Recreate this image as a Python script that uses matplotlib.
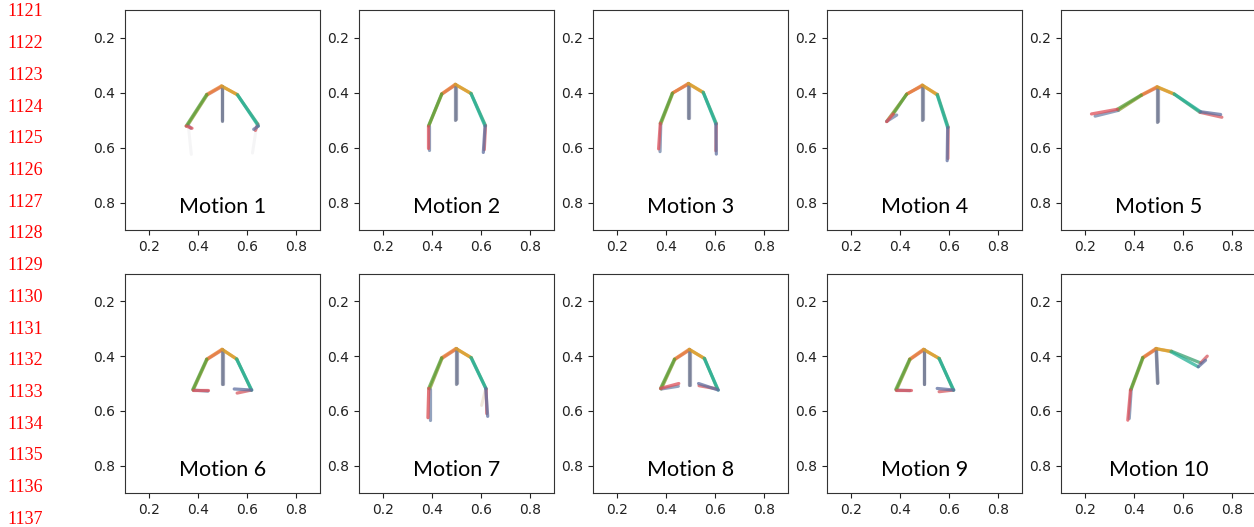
import matplotlib.pyplot as plt

# joint order: neck, chest, l_shoulder, l_elbow, l_wrist, r_shoulder, r_elbow, r_wrist
SEGMENTS = [(0, 1), (0, 2), (2, 3), (3, 4), (0, 5), (5, 6), (6, 7)]

motion_1 = [
    ([0.496, 0.496, 0.435, 0.351, 0.375, 0.562, 0.647, 0.628],
     [0.376, 0.503, 0.407, 0.522, 0.530, 0.409, 0.522, 0.534]),
    ([0.498, 0.498, 0.437, 0.358, 0.370, 0.560, 0.645, 0.635],
     [0.378, 0.500, 0.409, 0.518, 0.530, 0.407, 0.515, 0.538]),
]
motion_1_faint = [
    ([0.496, 0.496, 0.435, 0.360, 0.372, 0.562, 0.640, 0.623],
     [0.376, 0.503, 0.407, 0.522, 0.625, 0.409, 0.522, 0.620]),
]
motion_2 = [
    ([0.495, 0.495, 0.439, 0.385, 0.385, 0.559, 0.617, 0.610],
     [0.370, 0.500, 0.405, 0.522, 0.600, 0.403, 0.522, 0.618]),
    ([0.497, 0.497, 0.440, 0.387, 0.387, 0.560, 0.619, 0.614],
     [0.372, 0.498, 0.406, 0.520, 0.609, 0.404, 0.520, 0.608]),
]
motion_3 = [
    ([0.491, 0.491, 0.425, 0.376, 0.369, 0.552, 0.604, 0.606],
     [0.367, 0.494, 0.403, 0.512, 0.605, 0.399, 0.515, 0.624]),
    ([0.493, 0.493, 0.428, 0.378, 0.375, 0.553, 0.606, 0.604],
     [0.369, 0.492, 0.401, 0.515, 0.615, 0.401, 0.513, 0.612]),
]
motion_4 = [
    ([0.491, 0.491, 0.426, 0.372, 0.345, 0.552, 0.595, 0.593],
     [0.373, 0.500, 0.407, 0.478, 0.506, 0.409, 0.528, 0.648]),
    ([0.493, 0.493, 0.428, 0.345, 0.386, 0.553, 0.597, 0.596],
     [0.375, 0.498, 0.405, 0.505, 0.482, 0.407, 0.526, 0.640]),
]
motion_5 = [
    ([0.494, 0.494, 0.429, 0.331, 0.225, 0.564, 0.673, 0.755],
     [0.379, 0.506, 0.409, 0.461, 0.478, 0.405, 0.470, 0.480]),
    ([0.496, 0.496, 0.431, 0.335, 0.240, 0.566, 0.670, 0.760],
     [0.381, 0.504, 0.410, 0.465, 0.486, 0.407, 0.472, 0.490]),
]
motion_6 = [
    ([0.498, 0.498, 0.435, 0.378, 0.440, 0.557, 0.620, 0.548],
     [0.375, 0.502, 0.411, 0.522, 0.522, 0.410, 0.524, 0.520]),
    ([0.500, 0.500, 0.437, 0.380, 0.440, 0.559, 0.618, 0.560],
     [0.377, 0.500, 0.412, 0.524, 0.528, 0.411, 0.524, 0.535]),
]
motion_7 = [
    ([0.498, 0.498, 0.439, 0.386, 0.383, 0.559, 0.620, 0.628],
     [0.372, 0.500, 0.406, 0.518, 0.625, 0.405, 0.518, 0.620]),
    ([0.500, 0.500, 0.441, 0.390, 0.390, 0.561, 0.622, 0.624],
     [0.374, 0.498, 0.408, 0.520, 0.635, 0.406, 0.520, 0.610]),
]
motion_7_faint = [
    ([0.498, 0.498, 0.439, 0.386, 0.383, 0.559, 0.620, 0.603],
     [0.372, 0.500, 0.406, 0.518, 0.625, 0.405, 0.518, 0.580]),
]
motion_8 = [
    ([0.495, 0.495, 0.434, 0.377, 0.452, 0.556, 0.614, 0.533],
     [0.375, 0.506, 0.411, 0.518, 0.500, 0.408, 0.524, 0.500]),
    ([0.497, 0.497, 0.436, 0.380, 0.450, 0.558, 0.610, 0.535],
     [0.377, 0.504, 0.412, 0.520, 0.510, 0.409, 0.520, 0.508]),
]
motion_9 = [
    ([0.496, 0.496, 0.439, 0.382, 0.443, 0.559, 0.620, 0.552],
     [0.375, 0.502, 0.411, 0.522, 0.522, 0.408, 0.524, 0.518]),
    ([0.498, 0.498, 0.441, 0.385, 0.440, 0.561, 0.618, 0.560],
     [0.377, 0.500, 0.412, 0.524, 0.526, 0.409, 0.524, 0.530]),
]
motion_10 = [
    ([0.490, 0.496, 0.435, 0.385, 0.374, 0.551, 0.663, 0.693],
     [0.372, 0.500, 0.405, 0.524, 0.634, 0.384, 0.439, 0.415]),
    ([0.492, 0.498, 0.437, 0.388, 0.380, 0.553, 0.673, 0.700],
     [0.374, 0.498, 0.406, 0.522, 0.628, 0.382, 0.425, 0.400]),
]

motions = [motion_1, motion_2, motion_3, motion_4, motion_5,
           motion_6, motion_7, motion_8, motion_9, motion_10]
faint = {0: motion_1_faint, 6: motion_7_faint}
titles = [f"Motion {i}" for i in range(1, 11)]
ticks = [0.2, 0.4, 0.6, 0.8]
line_numbers = list(range(1121, 1138))

# segment colours; frame b drawn first, frame a on top
pal_a = ['#6f7890', '#e8803a', '#5a9e38', '#e0505a', '#d9a22e', '#25b096', '#5f6fa0']
pal_b = ['#858aa2', '#d86a4a', '#8a9a30', '#6f84a8', '#e0902a', '#3aa070', '#d85a60']

W, H = 1254, 527
fig = plt.figure(figsize=(W / 100, H / 100), dpi=100)

lefts = [125, 359, 593, 827, 1061]
rows = [(10, 230), (274, 493)]

for k, frames in enumerate(motions):
    r, c = divmod(k, 5)
    top, bot = rows[r]
    ax = fig.add_axes([lefts[c] / W, 1 - bot / H, 195 / W, (bot - top) / H])
    for fx, fy in faint.get(k, []):
        for j, (a, b) in enumerate(SEGMENTS):
            if j in (3, 6):
                ax.plot([fx[a], fx[b]], [fy[a], fy[b]], color='#c8a070' if k == 6 else '#b0b0b8',
                        lw=2.2, alpha=0.25 if k == 6 else 0.12, solid_capstyle='round')
    for f in (1, 0):
        fx, fy = frames[f]
        pal = pal_b if f else pal_a
        for j, (a, b) in enumerate(SEGMENTS):
            ax.plot([fx[a], fx[b]], [fy[a], fy[b]], color=pal[j], lw=2.3,
                    alpha=0.75, solid_capstyle='round')
    ax.set_xlim(0.1, 0.9)
    ax.set_ylim(0.9, 0.1)
    ax.set_xticks(ticks)
    ax.set_yticks(ticks)
    ax.tick_params(labelsize=10, colors='#222222')
    for s in ax.spines.values():
        s.set_color('#333333')
    ax.text(0.5, 0.815, titles[k], ha='center', va='center', fontsize=15.5,
            family='Lato')

for i, n in enumerate(line_numbers):
    fig.text(7 / W, 1 - (12 + i * 31.7) / H, str(n), color='red', fontsize=13,
             family='Liberation Serif', va='center', ha='left')

fig.savefig('out.png', dpi=100)
